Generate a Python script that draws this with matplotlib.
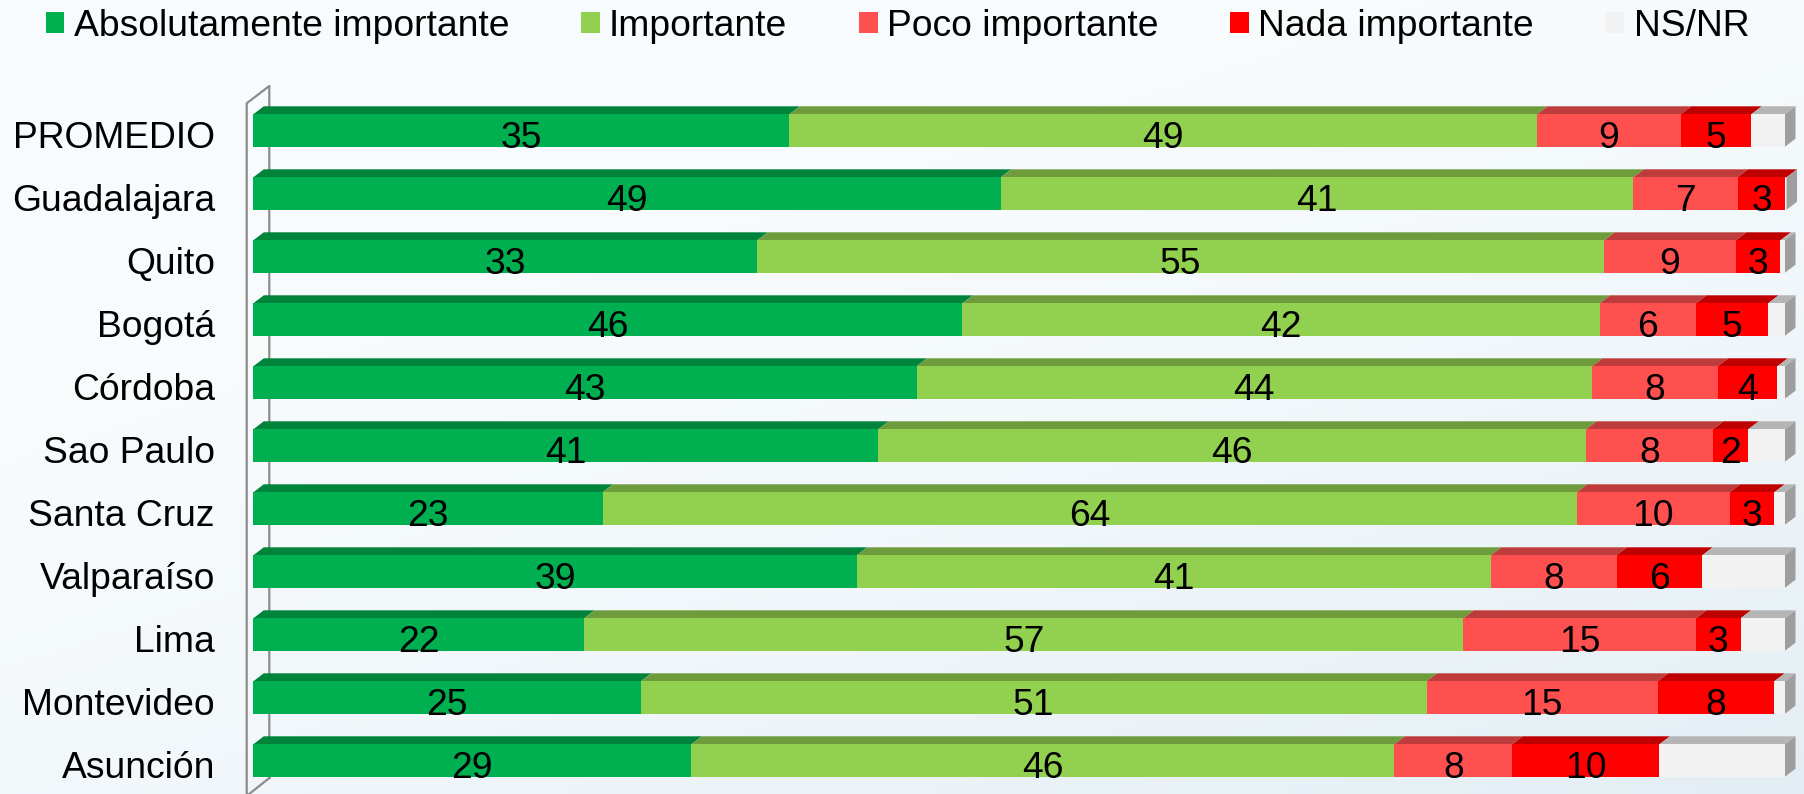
import matplotlib
matplotlib.use("Agg")
import matplotlib.pyplot as plt
import numpy as np
from matplotlib.patches import Polygon, Rectangle

plt.rcParams['font.family'] = ['Liberation Sans', 'DejaVu Sans']

cities = ["PROMEDIO", "Guadalajara", "Quito", "Bogotá", "Córdoba", "Sao Paulo",
          "Santa Cruz", "Valparaíso", "Lima", "Montevideo", "Asunción"]
series_names = ["Absolutamente importante", "Importante", "Poco importante",
                "Nada importante", "NS/NR"]
abs_imp = [35.0, 48.8, 32.9, 46.3, 43.3, 40.8, 22.8, 39.4, 21.6, 25.3, 28.6]
importante = [48.8, 41.3, 55.3, 41.6, 44.1, 46.2, 63.6, 41.4, 57.4, 51.3, 45.9]
poco = [9.4, 6.8, 8.6, 6.3, 8.2, 8.3, 10.0, 8.2, 15.2, 15.1, 7.7]
nada = [4.6, 3.2, 2.9, 4.7, 3.9, 2.3, 2.9, 5.6, 2.9, 7.6, 9.6]
nsnr = [2.2, 0.0, 0.3, 1.1, 0.5, 2.4, 0.7, 5.4, 2.9, 0.7, 8.2]

front_colors = ["#00B050", "#92D050", "#FF5050", "#FF0000", "#F2F2F2"]
top_colors = ["#00843C", "#6E9C3C", "#BF3C3C", "#BF0000", "#B5B5B5"]
side_color = "#9E9E9E"
show_label = [True, True, True, True, False]
fs = 26.8

W, H = 1804, 794
fig = plt.figure(figsize=(W / 100, H / 100), dpi=100)

# soft background gradient
bg = fig.add_axes([0, 0, 1, 1])
gx, gy = np.meshgrid(np.linspace(0, 1, 200), np.linspace(0, 1, 100))
t = np.clip(0.55 * gx + 0.75 * gy - 0.3, 0, 1) ** 1.5
c0 = np.array([0.975, 0.987, 0.993])
c1 = np.array([0.890, 0.933, 0.957])
img = c0 + (c1 - c0) * t[..., None]
bg.imshow(img, extent=[0, 1, 0, 1], origin="upper", aspect="auto")
bg.axis("off")

# plot area in pixel terms
x0_px, x1_px = 253.3, 1785.0
top_px, row0_px, pitch = 80.0, 130.5, 63.0
ax = fig.add_axes([x0_px / W, 0, (x1_px - x0_px) / W, (H - top_px) / H])
ax.set_xlim(0, 100)
ax.set_ylim((H - row0_px) / pitch, -(row0_px - top_px) / pitch)
ax.axis("off")

px_x = (x1_px - x0_px) / 100.0
dxd = 10.5 / px_x
dyd = 8.0 / pitch
bh = 32.4 / pitch
text_dy = 0.12

# 3D wall on the left
wf, wb = (246.7 - x0_px) / px_x, (269.3 - x0_px) / px_x
def py(p):
    return (p - row0_px) / pitch
ax.plot([wb, wf, wf, wb, wb], [py(778), py(796), py(103.3), py(86), py(778)],
        color="#8C8C8C", lw=1.6, clip_on=False, zorder=1)

data = [abs_imp, importante, poco, nada, nsnr]
for i, city in enumerate(cities):
    left = 0.0
    top = i - bh / 2
    for k, vals in enumerate(data):
        v = vals[i]
        if v > 0:
            ax.barh(i, v, left=left, height=bh, color=front_colors[k],
                    edgecolor="none", zorder=3)
            ax.add_patch(Polygon([(left, top), (left + v, top),
                                  (left + v + dxd, top - dyd), (left + dxd, top - dyd)],
                                 closed=True, facecolor=top_colors[k],
                                 edgecolor="none", zorder=2.5, clip_on=False))
            if show_label[k]:
                ax.text(left + v / 2, i + text_dy, f"{v:.0f}", ha="center", va="center",
                        fontsize=fs, color="black", zorder=5)
        left += v
    # right side face
    ax.add_patch(Polygon([(left, top), (left + dxd, top - dyd),
                          (left + dxd, top + bh - dyd), (left, top + bh)],
                         closed=True, facecolor=side_color, edgecolor="none",
                         zorder=2.5, clip_on=False))
    ax.text((215 - x0_px) / px_x, i + text_dy, city, ha="right", va="center",
            fontsize=fs, color="black", clip_on=False)

handles = [Rectangle((0, 0), 1, 1, facecolor=c, edgecolor="none") for c in front_colors]
fig.legend(handles, series_names, loc="center", bbox_to_anchor=(0.4975, 1 - 26 / H),
           ncol=5, frameon=False, fontsize=fs, handlelength=0.5, handleheight=0.5,
           handletextpad=0.25, columnspacing=1.93, borderpad=0, borderaxespad=0)

fig.savefig("out.png", dpi=100)
